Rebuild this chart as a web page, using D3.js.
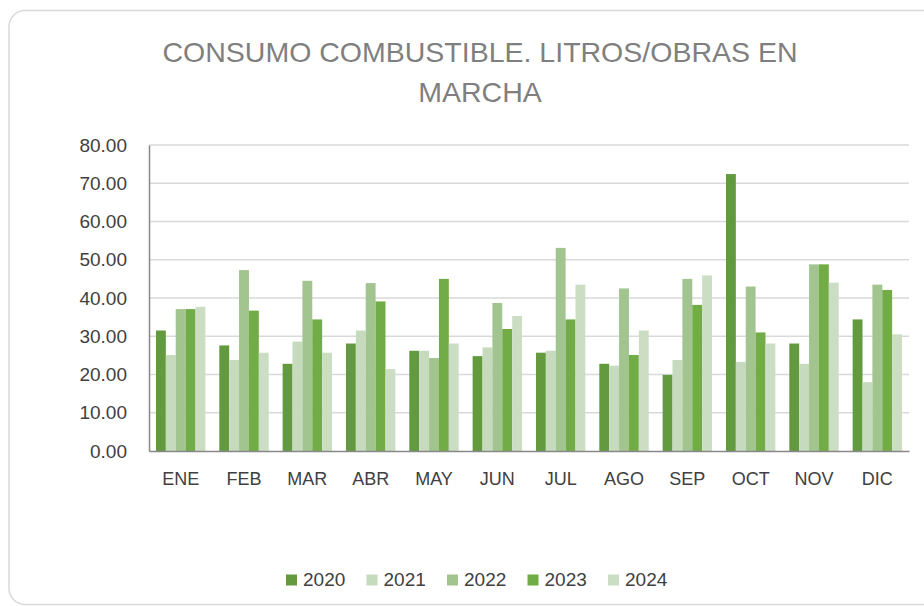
<!DOCTYPE html>
<html>
<head>
<meta charset="utf-8">
<script src="https://cdn.jsdelivr.net/npm/d3@7"></script>
<style>
  body { margin: 0; background: #fff; }
  svg { display: block; font-family: "Liberation Sans", Arial, sans-serif; }
</style>
</head>
<body>
<script>
// data
var months = ["ENE", "FEB", "MAR", "ABR", "MAY", "JUN", "JUL", "AGO", "SEP", "OCT", "NOV", "DIC"];
var years = ["2020", "2021", "2022", "2023", "2024"];
var v2020 = [31.5, 27.6, 22.8, 28.1, 26.2, 24.8, 25.7, 22.8, 19.9, 72.4, 28.1, 34.4];
var v2021 = [25.1, 23.8, 28.6, 31.5, 26.2, 27.1, 26.2, 22.3, 23.8, 23.3, 22.8, 18.0];
var v2022 = [37.1, 47.3, 44.5, 43.9, 24.3, 38.7, 53.1, 42.5, 45.0, 43.0, 48.8, 43.5];
var v2023 = [37.1, 36.7, 34.4, 39.1, 45.0, 31.9, 34.4, 25.1, 38.2, 31.0, 48.8, 42.1];
var v2024 = [37.7, 25.7, 25.7, 21.4, 28.1, 35.3, 43.5, 31.5, 45.9, 28.1, 44.0, 30.5];
var yTicks = [0, 10, 20, 30, 40, 50, 60, 70, 80];

var series = [v2020, v2021, v2022, v2023, v2024];
var colors = ["#639a3f", "#c6dbbd", "#a2c48f", "#71ac47", "#cbddc2"];

var W = 924, H = 606;
var margin = {top: 145, right: 15, bottom: 155, left: 149};
var width = 909 - margin.left,
    height = 451 - margin.top;

var svg = d3.select("body").append("svg")
    .attr("width", W)
    .attr("height", H);

// chart frame
svg.append("rect")
    .attr("x", 9).attr("y", 10.5)
    .attr("width", 940).attr("height", 594)
    .attr("rx", 16)
    .attr("fill", "#fff")
    .attr("stroke", "#d9d9d9")
    .attr("stroke-width", 1.5);

// title
var title = svg.append("text")
    .attr("text-anchor", "middle")
    .attr("fill", "#7f7f7f")
    .style("font-size", "28.5px");
title.append("tspan").attr("x", 480).attr("y", 62).text("CONSUMO COMBUSTIBLE. LITROS/OBRAS EN");
title.append("tspan").attr("x", 480).attr("y", 102).text("MARCHA");

var g = svg.append("g")
    .attr("transform", "translate(" + margin.left + "," + margin.top + ")");

var x0 = d3.scaleBand()
    .domain(months)
    .range([0, width])
    .paddingInner(0.22)
    .paddingOuter(0.11);
var x1 = d3.scaleBand()
    .domain(years)
    .range([0, x0.bandwidth()]);
var y = d3.scaleLinear()
    .domain([0, 80])
    .range([height, 0]);

// gridlines
g.selectAll(".grid")
    .data(yTicks.filter(function(d) { return d > 0; }))
  .enter().append("line")
    .attr("x1", 0).attr("x2", width)
    .attr("y1", function(d) { return y(d); })
    .attr("y2", function(d) { return y(d); })
    .attr("stroke", "#d9d9d9")
    .attr("stroke-width", 1.5);

// bars
var groups = g.selectAll(".month")
    .data(months)
  .enter().append("g")
    .attr("transform", function(d) { return "translate(" + x0(d) + ",0)"; });

groups.selectAll("rect")
    .data(function(m, i) { return years.map(function(yr, j) { return {year: yr, value: series[j][i], j: j}; }); })
  .enter().append("rect")
    .attr("x", function(d) { return x1(d.year); })
    .attr("width", x1.bandwidth())
    .attr("y", function(d) { return y(d.value); })
    .attr("height", function(d) { return height - y(d.value); })
    .attr("fill", function(d) { return colors[d.j]; });

// y axis
var yAxis = g.append("g")
    .call(d3.axisLeft(y).tickValues(yTicks).tickSize(0).tickPadding(22).tickFormat(d3.format(".2f")));
yAxis.select(".domain").attr("stroke", "#888").attr("stroke-width", 1.5);
yAxis.selectAll("text").attr("fill", "#404040").style("font-size", "19px")
    .style("font-family", "'Liberation Sans', Arial, sans-serif");

// x axis
var xAxis = g.append("g")
    .attr("transform", "translate(0," + height + ")")
    .call(d3.axisBottom(x0).tickSize(0).tickPadding(21));
xAxis.select(".domain").attr("stroke", "#888").attr("stroke-width", 1.5);
xAxis.selectAll("text").attr("fill", "#404040").style("font-size", "18px")
    .style("font-family", "'Liberation Sans Narrow', sans-serif");

// legend
var legend = svg.append("g")
    .attr("transform", "translate(286,574)");
var item = legend.selectAll(".item")
    .data(years)
  .enter().append("g")
    .attr("transform", function(d, i) { return "translate(" + (i * 80.5) + ",0)"; });
item.append("rect")
    .attr("x", 0).attr("y", 0.5)
    .attr("width", 11).attr("height", 11)
    .attr("fill", function(d, i) { return colors[i]; });
item.append("text")
    .attr("x", 17).attr("y", 11.5)
    .attr("fill", "#404040")
    .style("font-size", "19px")
    .text(function(d) { return d; });
</script>
</body>
</html>
